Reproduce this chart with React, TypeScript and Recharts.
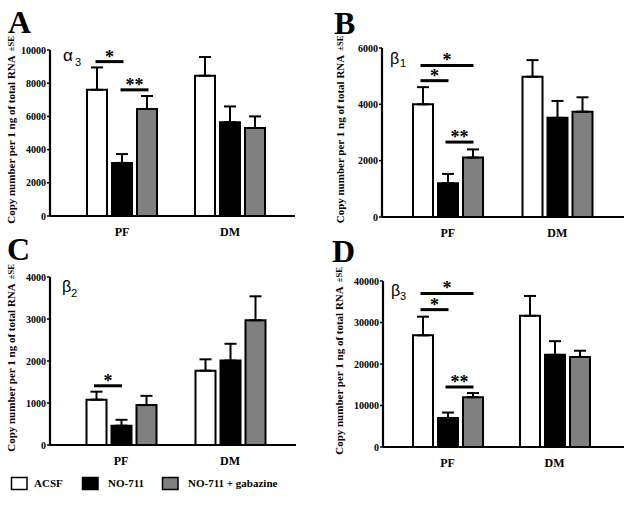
import React from 'react';
import { BarChart, Bar, XAxis, YAxis, ErrorBar, ReferenceLine } from 'recharts';

const SERIF = "'Liberation Serif', 'Times New Roman', Times, serif";
const SANS = "'Liberation Sans', Arial, Helvetica, sans-serif";

// ---------- data ----------
const regions = ['PF', 'DM'];
const treatments = ['ACSF', 'NO-711', 'NO-711 + gabazine'];
const treatmentFills = ['#ffffff', '#000000', '#808080'];
const yAxisTitle = 'Copy number per 1 ng of total RNA';
const yAxisTitleSuffix = '±SE';

// Panel A – α3 (rows: treatment, cols: region)
const alpha3Means = [[7600, 8450], [3200, 5650], [6450, 5300]];
const alpha3Se = [[1350, 1130], [530, 950], [780, 700]];
const alpha3Ticks = [0, 2000, 4000, 6000, 8000, 10000];
const alpha3Sig = [
  { region: 0, from: 0, to: 1, y: 9300, mark: '*' },
  { region: 0, from: 1, to: 2, y: 7600, mark: '**' },
];

// Panel B – β1
const beta1Means = [[4000, 4980], [1200, 3520], [2110, 3740]];
const beta1Se = [[610, 590], [330, 600], [290, 510]];
const beta1Ticks = [0, 2000, 4000, 6000];
const beta1Sig = [
  { region: 0, from: 0, to: 2, y: 5380, mark: '*' },
  { region: 0, from: 0, to: 1, y: 4840, mark: '*' },
  { region: 0, from: 1, to: 2, y: 2660, mark: '**' },
];

// Panel C – β2
const beta2Means = [[1080, 1770], [460, 2010], [950, 2970]];
const beta2Se = [[190, 270], [140, 400], [220, 570]];
const beta2Ticks = [0, 1000, 2000, 3000, 4000];
const beta2Sig = [{ region: 0, from: 0, to: 1, y: 1410, mark: '*' }];

// Panel D – β3
const beta3Means = [[26900, 31600], [7000, 22200], [12000, 21700]];
const beta3Se = [[4500, 4800], [1300, 3300], [1000, 1500]];
const beta3Ticks = [0, 10000, 20000, 30000, 40000];
const beta3Sig = [
  { region: 0, from: 0, to: 2, y: 37000, mark: '*' },
  { region: 0, from: 0, to: 1, y: 33100, mark: '*' },
  { region: 0, from: 1, to: 2, y: 14460, mark: '**' },
];

// ---------- layout ----------
const BAR = 20;
const GAP = 5;

type Layout = {
  left: number; top: number; width: number; height: number;
  mTop: number; mRight: number; yW: number; xH: number;
  padL: number; padR: number; labelX: number;
};

const layoutA: Layout = { left: 0, top: 0, width: 300, height: 245, mTop: 50, mRight: 5, yW: 50, xH: 29, padL: 18, padR: 11, labelX: 10.5 };
const layoutB: Layout = { left: 312, top: 0, width: 312, height: 245, mTop: 48, mRight: 0, yW: 70, xH: 28, padL: 11, padR: 12, labelX: 28 };
const layoutC: Layout = { left: 0, top: 240, width: 300, height: 234, mTop: 37, mRight: 4, yW: 50, xH: 29, padL: 16.5, padR: 11.5, labelX: 11 };
const layoutD: Layout = { left: 312, top: 240, width: 312, height: 236, mTop: 41, mRight: 0, yW: 71, xH: 29, padL: 11, padR: 16, labelX: 27 };

function YTitle(props: any, labelX: number) {
  const vb = props.viewBox || { x: 0, y: 0, height: 0 };
  const cx = vb.x + labelX;
  const cy = vb.y + vb.height / 2 - 3;
  return (
    <text
      x={cx}
      y={cy}
      transform={`rotate(-90 ${cx} ${cy})`}
      textAnchor="middle"
      dominantBaseline="central"
      fontFamily={SERIF}
      fontWeight={700}
      fontSize={11}
      fill="#000"
    >
      {yAxisTitle}
      <tspan dx={4} fontSize={8.5}>{yAxisTitleSuffix}</tspan>
    </text>
  );
}

type PanelProps = {
  means: number[][];
  se: number[][];
  ticks: number[];
  sig: { region: number; from: number; to: number; y: number; mark: string }[];
  L: Layout;
};

function Panel({ means, se, ticks, sig, L }: PanelProps) {
  const data = regions.map((r, ri) => {
    const row: any = { region: r };
    treatments.forEach((_, ti) => {
      row[`m${ti}`] = means[ti][ri];
      row[`e${ti}`] = [0, se[ti][ri]];
    });
    return row;
  });
  const plotW = L.width - L.mRight - L.yW;
  const band = (plotW - L.padL - L.padR) / regions.length;
  const groupOffset = Math.floor((band - (BAR * 3 + GAP * 2)) / 2);
  // position of a bar centre as a fraction of the padded category range
  const sx = (region: number, idx: number) =>
    (region * band + groupOffset + BAR / 2 + idx * (BAR + GAP)) / (band * regions.length);

  return (
    <div style={{ position: 'absolute', left: L.left, top: L.top }}>
      <BarChart
        width={L.width}
        height={L.height}
        data={data}
        margin={{ top: L.mTop, right: L.mRight, left: 0, bottom: 0 }}
        barGap={GAP}
        barSize={BAR}
      >
        <XAxis
          dataKey="region"
          padding={{ left: L.padL, right: L.padR }}
          height={L.xH}
          tickLine={false}
          tickSize={8}
          tickMargin={3}
          interval={0}
          axisLine={{ stroke: '#000', strokeWidth: 2.2 }}
          tick={{ fill: '#000', fontSize: 12, fontWeight: 700, fontFamily: SERIF }}
        />
        <XAxis
          xAxisId="sig"
          type="number"
          domain={[0, 1]}
          allowDataOverflow
          padding={{ left: L.padL, right: L.padR }}
          hide
        />
        <YAxis
          type="number"
          width={L.yW}
          domain={[0, ticks[ticks.length - 1]]}
          ticks={ticks}
          interval={0}
          tickSize={3}
          tickMargin={1}
          axisLine={{ stroke: '#000', strokeWidth: 2.2 }}
          tickLine={{ stroke: '#000', strokeWidth: 1.5 }}
          tick={{ fill: '#000', fontSize: 10, fontWeight: 700, fontFamily: SERIF }}
          label={(p: any) => YTitle(p, L.labelX)}
        />
        {treatments.map((t, ti) => (
          <Bar
            key={t}
            dataKey={`m${ti}`}
            name={t}
            fill={treatmentFills[ti]}
            stroke="#000"
            strokeWidth={2}
            isAnimationActive={false}
          >
            <ErrorBar dataKey={`e${ti}`} direction="y" width={6} stroke="#000" strokeWidth={2} />
          </Bar>
        ))}
        {sig.map((s, k) => (
          <ReferenceLine
            key={k}
            xAxisId="sig"
            ifOverflow="visible"
            segment={[
              { x: sx(s.region, s.from), y: s.y },
              { x: sx(s.region, s.to), y: s.y },
            ]}
            stroke="#000"
            strokeWidth={3}
            strokeLinecap="square"
            label={{ value: s.mark, position: 'top', offset: -1, fill: '#000', fontSize: 18, fontWeight: 700, fontFamily: SERIF }}
          />
        ))}
      </BarChart>
    </div>
  );
}

export default function App() {
  const legendBoxX = [11, 82, 162];
  const legendTextX = [34, 108, 188];
  return (
    <div style={{ position: 'absolute', left: 0, top: 0, width: 624, height: 505, background: '#fff', overflow: 'hidden' }}>
      <Panel means={alpha3Means} se={alpha3Se} ticks={alpha3Ticks} sig={alpha3Sig} L={layoutA} />
      <Panel means={beta1Means} se={beta1Se} ticks={beta1Ticks} sig={beta1Sig} L={layoutB} />
      <Panel means={beta2Means} se={beta2Se} ticks={beta2Ticks} sig={beta2Sig} L={layoutC} />
      <Panel means={beta3Means} se={beta3Se} ticks={beta3Ticks} sig={beta3Sig} L={layoutD} />
      <svg width={624} height={505} style={{ position: 'absolute', left: 0, top: 0, pointerEvents: 'none' }}>
        <g fontFamily={SERIF} fontWeight={700} fontSize={32} fill="#000">
          <text x={8} y={33}>A</text>
          <text x={334} y={34}>B</text>
          <text x={7} y={260}>C</text>
          <text x={332} y={261.5}>D</text>
        </g>
        <g fontFamily={SANS} fill="#000">
          <text x={63} y={61} fontSize={17}>α</text>
          <text x={75} y={66} fontSize={11}>3</text>
          <text x={390} y={64} fontSize={16}>β</text>
          <text x={400} y={67} fontSize={11}>1</text>
          <text x={62} y={292} fontSize={16}>β</text>
          <text x={71} y={296.5} fontSize={11}>2</text>
          <text x={391} y={296} fontSize={16}>β</text>
          <text x={400} y={300} fontSize={11}>3</text>
        </g>
        {treatments.map((t, i) => (
          <g key={t}>
            <rect x={legendBoxX[i] + 0.5} y={477.5} width={15.5} height={12} fill={treatmentFills[i]} stroke="#000" strokeWidth={1.5} />
            <text x={legendTextX[i]} y={487} fontFamily={SERIF} fontWeight={700} fontSize={11} fill="#000">{t}</text>
          </g>
        ))}
      </svg>
    </div>
  );
}
